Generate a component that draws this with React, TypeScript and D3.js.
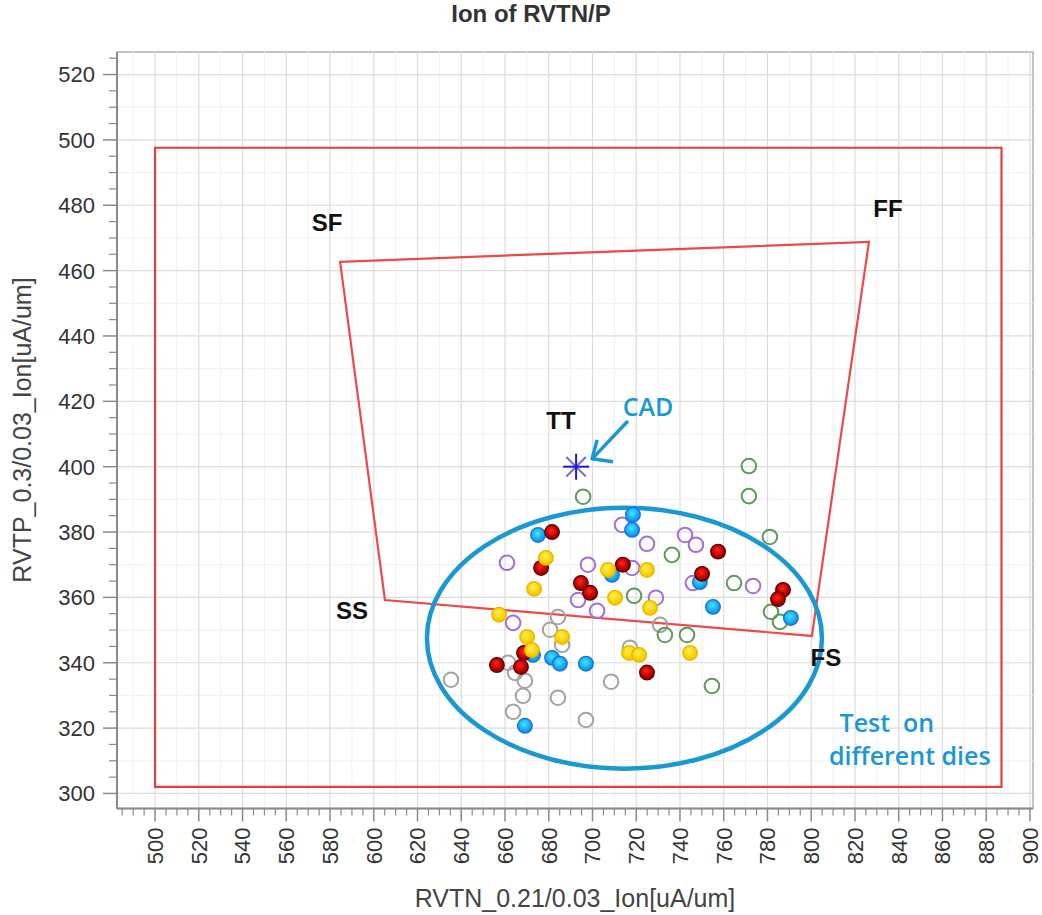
import React from "react";
import * as d3 from "d3";

const W = 1042;
const H = 915;
const PL = 117, PT = 52, PR = 1033, PB = 808.5;

const xDomain: [number, number] = [482.6, 901.4];
const yDomain: [number, number] = [295.4, 526.9];
const xTickValues = d3.range(500, 901, 20);
const yTickValues = d3.range(300, 521, 20);

const titleText = "Ion of RVTN/P";
const xLabel = "RVTN_0.21/0.03_Ion[uA/um]";
const yLabel = "RVTP_0.3/0.03_Ion[uA/um]";

// corner window (outer red rectangle)
const outerBox: [number, number][] = [[500, 302], [887, 302], [887, 497.6], [500, 497.6]];
// process corners quadrilateral: SF, FF, FS, SS
const cornerQuad: [number, number][] = [[584.6, 462.7], [826.4, 468.8], [800.3, 348.2], [605.1, 359.2]];
const cornerLabels: { t: string; x: number; y: number }[] = [
  { t: "SF", x: 578.6, y: 474.9 },
  { t: "FF", x: 835.1, y: 479.2 },
  { t: "TT", x: 685.6, y: 414.3 },
  { t: "SS", x: 590.1, y: 355.9 },
  { t: "FS", x: 806.7, y: 341.5 },
];
const cadPoint: [number, number] = [692.5, 400];
const dieEllipse = { cx: 714.6, cy: 347.5, rx: 90.3, ry: 39.9 };

// die measurements, one array per colour group
const redDies: [number, number][] = [
  [681.5, 380], [676.5, 369], [694.7, 364.4], [698.9, 361.4], [713.9, 370], [757.4, 374],
  [750.1, 367.2], [787.1, 362.3], [784.8, 359.5], [668.7, 343], [656.3, 339.3], [667.3, 338.7], [724.9, 337],
];
const yellowDies: [number, number][] = [
  [678.7, 372.1], [673.3, 362.6], [707.1, 368.4], [724.9, 368.4], [710.3, 359.9], [726.3, 356.8],
  [657.3, 354.7], [670.1, 347.9], [672.3, 343.9], [686.1, 347.9], [716.7, 343.0], [721.3, 342.4], [744.6, 343.0],
];
const cyanDies: [number, number][] = [
  [675.1, 379.1], [718.5, 385.3], [718.1, 380.7], [708.9, 366.9], [749.1, 364.7], [755.1, 357.1],
  [790.7, 353.7], [672.8, 342.4], [681.5, 341.5], [685.1, 339.7], [697.0, 339.7], [669.1, 320.7],
];
const purpleDies: [number, number][] = [
  [713.5, 382.2], [742.3, 379.1], [747.3, 376.1], [724.9, 376.4], [660.9, 370.6], [697.9, 370.0],
  [718.1, 369.0], [693.4, 359.2], [702.1, 355.9], [745.9, 364.4], [773.4, 363.5], [729.0, 359.9], [663.7, 352.2],
];
const greenDies: [number, number][] = [
  [695.7, 390.8], [771.5, 400.2], [771.5, 391.0], [781.1, 378.5], [736.3, 373.0], [764.7, 364.4],
  [781.6, 355.6], [785.7, 352.5], [719.0, 360.5], [733.1, 348.5], [743.2, 348.5], [754.6, 332.9],
];
const grayDies: [number, number][] = [
  [635.3, 334.8], [684.2, 354.0], [680.6, 350.1], [686.1, 345.5], [661.4, 340.0], [664.6, 336.9],
  [669.1, 334.5], [668.2, 329.9], [684.2, 329.3], [708.5, 334.2], [663.7, 325.0], [697.0, 322.5],
  [730.9, 351.6], [717.1, 344.6],
];

const series = [
  { name: "gray", data: grayDies, fill: "none", stroke: "#a3a3a3", sw: 2 },
  { name: "green", data: greenDies, fill: "none", stroke: "#5e9a58", sw: 2 },
  { name: "purple", data: purpleDies, fill: "none", stroke: "#a26de0", sw: 2 },
  { name: "cyan", data: cyanDies, fill: "url(#gCyan)", stroke: "#1c6fd6", sw: 1.3 },
  { name: "red", data: redDies, fill: "url(#gRed)", stroke: "#5a0000", sw: 1.3 },
  { name: "yellow", data: yellowDies, fill: "url(#gYellow)", stroke: "#e5b800", sw: 1.3 },
];

const cadArrow = { from: [716.2, 414.0], tip: [699.8, 402.4], armA: [702.1, 408.2], armB: [709.4, 401.5] };
const cadText = { t: "CAD", x: 725.4, y: 418.3 };
const noteLines = [
  { t: "Test  on", x: 834.6, y: 321.6 },
  { t: "different dies", x: 845.1, y: 311.5 },
];

export default function App() {
  const x = d3.scaleLinear().domain(xDomain).range([PL, PR]);
  const y = d3.scaleLinear().domain(yDomain).range([PB, PT]);
  const xMinor = d3.range(485, 901, 5).filter((v) => v % 20 !== 0);
  const yMinor = d3.range(300, 527, 5).filter((v) => v % 20 !== 0);
  const xGridMinor = d3.range(490, 901, 10).filter((v) => v % 20 !== 0);
  const yGridMinor = d3.range(300, 527, 10).filter((v) => v % 20 !== 0);
  const line = d3.line<[number, number]>().x((d) => x(d[0])).y((d) => y(d[1]));
  const blue = "#1a98d5";
  const tickFont = "'Liberation Sans', Arial, sans-serif";
  const [sx, sy] = [x(cadPoint[0]), y(cadPoint[1])];
  const arm = 13;
  return (
    <svg width={W} height={H} style={{ position: "absolute", left: 0, top: 0, background: "#fff" }}>
      <defs>
        <radialGradient id="gRed" cx="45%" cy="40%" r="60%">
          <stop offset="0%" stopColor="#ff2a1a" />
          <stop offset="60%" stopColor="#c80000" />
          <stop offset="100%" stopColor="#7a0000" />
        </radialGradient>
        <radialGradient id="gYellow" cx="45%" cy="40%" r="60%">
          <stop offset="0%" stopColor="#fff06a" />
          <stop offset="60%" stopColor="#ffd500" />
          <stop offset="100%" stopColor="#f0c000" />
        </radialGradient>
        <radialGradient id="gCyan" cx="45%" cy="40%" r="60%">
          <stop offset="0%" stopColor="#4ee0ff" />
          <stop offset="60%" stopColor="#12b4f5" />
          <stop offset="100%" stopColor="#1a80e0" />
        </radialGradient>
      </defs>
      <text x={531} y={22} textAnchor="middle" fontFamily={tickFont} fontWeight="bold" fontSize={24} fill="#333">
        {titleText}
      </text>
      {/* plot frame */}
      <rect x={PL} y={PT} width={PR - PL} height={PB - PT} fill="#fff" stroke="#b0b0b0" strokeWidth={1.5} />
      {/* grid */}
      {xGridMinor.map((v) => (
        <line key={"xgm" + v} x1={x(v)} x2={x(v)} y1={PT} y2={PB} stroke="#f0f0f0" strokeWidth={1} />
      ))}
      {yGridMinor.map((v) => (
        <line key={"ygm" + v} y1={y(v)} y2={y(v)} x1={PL} x2={PR} stroke="#f0f0f0" strokeWidth={1} />
      ))}
      {xTickValues.map((v) => (
        <line key={"xg" + v} x1={x(v)} x2={x(v)} y1={PT} y2={PB} stroke="#dcdcdc" strokeWidth={1.2} />
      ))}
      {yTickValues.map((v) => (
        <line key={"yg" + v} y1={y(v)} y2={y(v)} x1={PL} x2={PR} stroke="#dcdcdc" strokeWidth={1.2} />
      ))}
      {/* axes */}
      <line x1={PL} x2={PL} y1={PT} y2={PB} stroke="#8a8a8a" strokeWidth={2} />
      <line x1={PL} x2={PR} y1={PB} y2={PB} stroke="#8a8a8a" strokeWidth={2} />
      {yTickValues.map((v) => (
        <g key={"yt" + v}>
          <line x1={PL - 14} x2={PL} y1={y(v)} y2={y(v)} stroke="#8a8a8a" strokeWidth={1.5} />
          <text x={PL - 22} y={y(v)} dy="0.36em" textAnchor="end" fontFamily={tickFont} fontSize={22} fill="#333">
            {v}
          </text>
        </g>
      ))}
      {yMinor.map((v) => (
        <line key={"ym" + v} x1={PL - 8} x2={PL} y1={y(v)} y2={y(v)} stroke="#8a8a8a" strokeWidth={1.2} />
      ))}
      {xTickValues.map((v) => (
        <g key={"xt" + v}>
          <line x1={x(v)} x2={x(v)} y1={PB} y2={PB + 13} stroke="#8a8a8a" strokeWidth={1.5} />
          <text
            transform={`translate(${x(v)},${PB + 19}) rotate(-90)`}
            dy="0.36em"
            textAnchor="end"
            fontFamily={tickFont}
            fontSize={22}
            fill="#333"
          >
            {v}
          </text>
        </g>
      ))}
      {xMinor.map((v) => (
        <line key={"xm" + v} x1={x(v)} x2={x(v)} y1={PB} y2={PB + 7} stroke="#8a8a8a" strokeWidth={1.2} />
      ))}
      <text x={575} y={907} textAnchor="middle" fontFamily={tickFont} fontSize={25} fill="#444">
        {xLabel}
      </text>
      <text transform="translate(31,430) rotate(-90)" textAnchor="middle" fontFamily={tickFont} fontSize={25} fill="#444">
        {yLabel}
      </text>
      {/* corner window */}
      <path d={line(outerBox) + "Z"} fill="none" stroke="#ec3b3b" strokeWidth={2.2} />
      <path d={line(cornerQuad) + "Z"} fill="none" stroke="#ec4a4a" strokeWidth={2.2} />
      {/* die ellipse */}
      <ellipse
        cx={x(dieEllipse.cx)}
        cy={y(dieEllipse.cy)}
        rx={x(dieEllipse.cx + dieEllipse.rx) - x(dieEllipse.cx)}
        ry={y(dieEllipse.cy - dieEllipse.ry) - y(dieEllipse.cy)}
        fill="none"
        stroke={blue}
        strokeWidth={4.5}
      />
      {/* points */}
      {series.map((s) => (
        <g key={s.name}>
          {s.data.map((d, i) => (
            <circle key={i} cx={x(d[0])} cy={y(d[1])} r={7.3} fill={s.fill} stroke={s.stroke} strokeWidth={s.sw} />
          ))}
        </g>
      ))}
      {/* CAD star */}
      <g>
        <line x1={sx - arm * 0.75} y1={sy - arm * 0.75} x2={sx + arm * 0.75} y2={sy + arm * 0.75} stroke="#7a6ad8" strokeWidth={2} />
        <line x1={sx - arm * 0.75} y1={sy + arm * 0.75} x2={sx + arm * 0.75} y2={sy - arm * 0.75} stroke="#7a6ad8" strokeWidth={2} />
        <line x1={sx} y1={sy - arm} x2={sx} y2={sy + arm} stroke="#1a1ad0" strokeWidth={2} />
        <line x1={sx - arm} y1={sy} x2={sx + arm} y2={sy} stroke="#1a1ad0" strokeWidth={2} />
      </g>
      {/* CAD arrow */}
      <path
        d={`M${x(cadArrow.from[0])},${y(cadArrow.from[1])} L${x(cadArrow.tip[0])},${y(cadArrow.tip[1])}`}
        stroke={blue}
        strokeWidth={3.5}
        fill="none"
      />
      <path
        d={`M${x(cadArrow.armA[0])},${y(cadArrow.armA[1])} L${x(cadArrow.tip[0])},${y(cadArrow.tip[1])} L${x(cadArrow.armB[0])},${y(cadArrow.armB[1])}`}
        stroke={blue}
        strokeWidth={3.5}
        fill="none"
        strokeLinejoin="round"
      />
      <text x={x(cadText.x)} y={y(cadText.y)} dy="0.36em" textAnchor="middle" fontFamily="'Open Sans', sans-serif" fontWeight={600} fontSize={25} fill={blue}>
        {cadText.t}
      </text>
      {cornerLabels.map((c) => (
        <text key={c.t} x={x(c.x)} y={y(c.y)} dy="0.36em" textAnchor="middle" fontFamily={tickFont} fontWeight="bold" fontSize={24} fill="#111">
          {c.t}
        </text>
      ))}
      {noteLines.map((n) => (
        <text key={n.t} x={x(n.x)} y={y(n.y)} dy="0.36em" textAnchor="middle" fontFamily="'Open Sans', sans-serif" fontWeight={600} fontSize={25} fill={blue} style={{ whiteSpace: "pre" }}>
          {n.t}
        </text>
      ))}
    </svg>
  );
}
